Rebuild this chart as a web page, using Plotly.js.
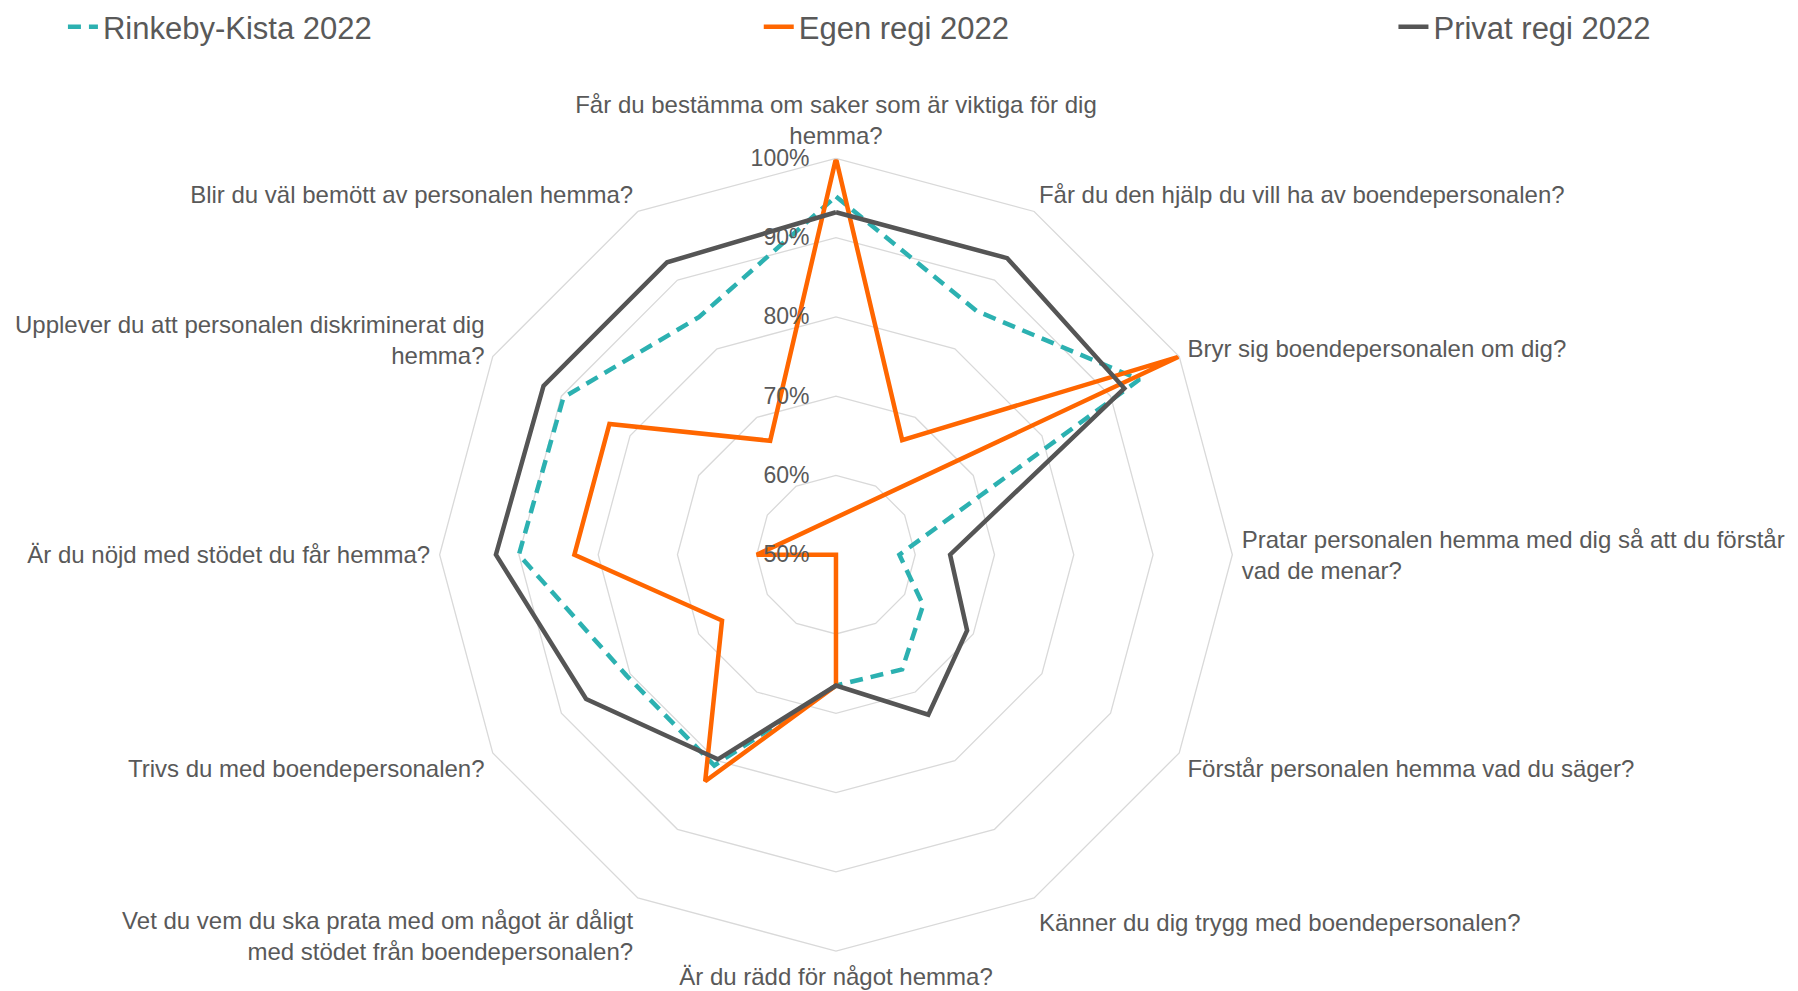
<!DOCTYPE html>
<html>
<head>
<meta charset="utf-8">
<script src="https://cdn.plot.ly/plotly-3.0.1.min.js"></script>
<style>
html,body{margin:0;padding:0;background:#fff;}
#chart{width:1798px;height:991px;}
</style>
</head>
<body>
<div id="chart"></div>
<script>
const categories = [
  "Får du bestämma om saker som är viktiga för dig<br>hemma?",
  "Får du den hjälp du vill ha av boendepersonalen?",
  "Bryr sig boendepersonalen om dig?",
  "Pratar personalen hemma med dig så att du förstår<br>vad de menar?",
  "Förstår personalen hemma vad du säger?",
  "Känner du dig trygg med boendepersonalen?",
  "Är du rädd för något hemma?",
  "Vet du vem du ska prata med om något är dåligt<br>med stödet från boendepersonalen?",
  "Trivs du med boendepersonalen?",
  "Är du nöjd med stödet du får hemma?",
  "Upplever du att personalen diskriminerat dig<br>hemma?",
  "Blir du väl bemött av personalen hemma?"
];
const rinkebyKista2022 = [0.952, 0.855, 0.942, 0.580, 0.627, 0.667, 0.665, 0.807, 0.805, 0.900, 0.897, 0.846];
const egenRegi2022     = [1.000, 0.667, 1.000, 0.400, 0.500, 0.500, 0.665, 0.830, 0.666, 0.830, 0.830, 0.666];
const privatRegi2022   = [0.932, 0.932, 0.920, 0.644, 0.691, 0.733, 0.665, 0.798, 0.864, 0.929, 0.926, 0.926];
const seriesNames = ["Rinkeby-Kista 2022", "Egen regi 2022", "Privat regi 2022"];
const radialTicks = [0.5, 0.6, 0.7, 0.8, 0.9, 1.0];
const radialMin = 0.5;

// Like the original radar chart, a value below the axis minimum is drawn
// on the opposite side of the centre (negative radius).
function toPolar(values){
  const r = [], theta = [];
  const n = categories.length;
  values.concat([values[0]]).forEach(function(v, i){
    const idx = i % n;
    if (v < radialMin) {
      r.push(2 * radialMin - v);
      theta.push(categories[(idx + n / 2) % n]);
    } else {
      r.push(v);
      theta.push(categories[idx]);
    }
  });
  return {r: r, theta: theta};
}

const textColor = "#595959";
const font = "Liberation Sans, Arial, sans-serif";

const p0 = toPolar(rinkebyKista2022), p1 = toPolar(egenRegi2022), p2 = toPolar(privatRegi2022);

const traces = [
  {type:"scatterpolar", mode:"lines", name:seriesNames[0], r:p0.r, theta:p0.theta,
   line:{color:"#2cb1b1", width:4.5, dash:"13px,8px"}, legend:"legend", hoverinfo:"skip"},
  {type:"scatterpolar", mode:"lines", name:seriesNames[1], r:p1.r, theta:p1.theta,
   line:{color:"#ff6600", width:4.5}, legend:"legend2", hoverinfo:"skip"},
  {type:"scatterpolar", mode:"lines", name:seriesNames[2], r:p2.r, theta:p2.theta,
   line:{color:"#555555", width:4.5}, legend:"legend3", hoverinfo:"skip"}
];

const legendBase = {orientation:"h", yanchor:"middle", y:0.988, xanchor:"left",
  font:{family:font, size:31, color:textColor}, bgcolor:"rgba(0,0,0,0)", itemwidth:30};

const layout = {
  width:1798, height:991,
  margin:{l:0, r:0, t:0, b:0},
  paper_bgcolor:"#ffffff",
  font:{family:font, color:textColor},
  showlegend:true,
  legend: Object.assign({}, legendBase, {x:0.035}),
  legend2: Object.assign({}, legendBase, {x:0.422}),
  legend3: Object.assign({}, legendBase, {x:0.775}),
  polar:{
    domain:{x:[0.2410, 0.6889], y:[0.0409, 0.8531]},
    bgcolor:"rgba(0,0,0,0)",
    gridshape:"linear",
    radialaxis:{
      range:[0.5, 1.0], tickvals:radialTicks, tickformat:".0%",
      angle:90, side:"counterclockwise", tickangle:90,
      showline:false, ticks:"outside", ticklen:18, tickcolor:"rgba(0,0,0,0)",
      gridcolor:"#d9d9d9", gridwidth:1.3,
      tickfont:{family:font, size:23, color:textColor}
    },
    angularaxis:{
      type:"category", categoryorder:"array", categoryarray:categories,
      direction:"clockwise", rotation:90,
      showgrid:false, showline:true, linecolor:"#d9d9d9", linewidth:1.3,
      ticks:"outside", ticklen:4, tickcolor:"rgba(0,0,0,0)",
      tickfont:{family:font, size:24, color:textColor}
    }
  }
};

Plotly.newPlot("chart", traces, layout, {staticPlot:true});
</script>
</body>
</html>
